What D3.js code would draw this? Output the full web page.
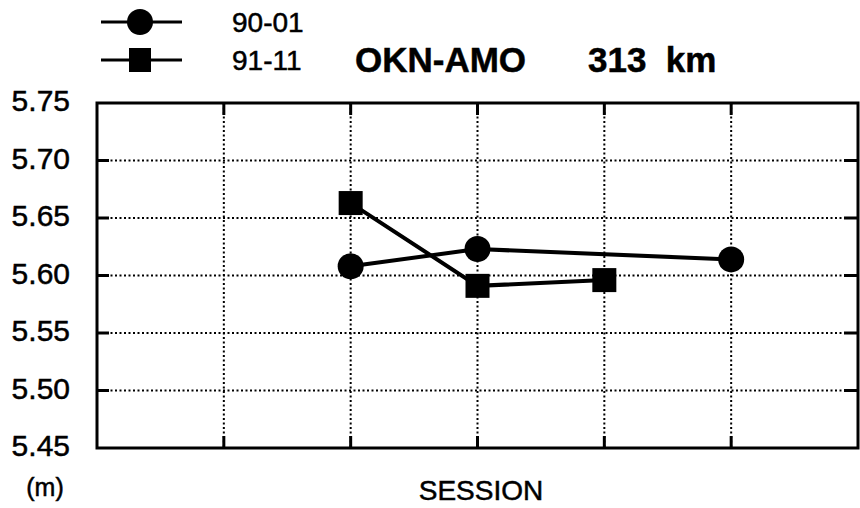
<!DOCTYPE html>
<html>
<head>
<meta charset="utf-8">
<script src="https://cdn.jsdelivr.net/npm/d3@7"></script>
<style>
  body { margin: 0; background: #fff; }
  svg { display: block; }
  text { font-family: "Liberation Sans", Arial, Helvetica, sans-serif; fill: #000; stroke: #000; stroke-width: 0.5px; }
</style>
</head>
<body>
<svg width="860" height="508"></svg>
<script>
// data
var sessions9001 = [2, 3, 5];
var values9001 = [5.608, 5.623, 5.614];
var sessions9111 = [2, 3, 4];
var values9111 = [5.663, 5.591, 5.596];
var yTicks = [5.45, 5.50, 5.55, 5.60, 5.65, 5.70, 5.75];
var xGrid = [1, 2, 3, 4, 5];
var seriesNames = ["90-01", "91-11"];

drawChart();

function drawChart() {

  var svg = d3.select("svg");

  // plot box
  var boxLeft = 97, boxRight = 858, boxTop = 103, boxBottom = 448;

  var x = d3.scaleLinear().domain([0, 6]).range([boxLeft, boxRight]);
  var y = d3.scaleLinear().domain([5.45, 5.75]).range([boxBottom, boxTop]);

  // dotted grid
  svg.append("g")
    .selectAll("line")
    .data(xGrid)
    .enter().append("line")
      .attr("x1", function(d) { return x(d); })
      .attr("x2", function(d) { return x(d); })
      .attr("y1", boxTop)
      .attr("y2", boxBottom)
      .attr("stroke", "#000")
      .attr("stroke-width", 2)
      .attr("stroke-dasharray", "2,2.5");

  svg.append("g")
    .selectAll("line")
    .data(yTicks.slice(1, -1))
    .enter().append("line")
      .attr("x1", boxLeft)
      .attr("x2", boxRight)
      .attr("y1", function(d) { return y(d); })
      .attr("y2", function(d) { return y(d); })
      .attr("stroke", "#000")
      .attr("stroke-width", 2)
      .attr("stroke-dasharray", "2,2.5");

  // inner tick marks on all four sides
  var ticks = svg.append("g").attr("stroke", "#000").attr("stroke-width", 3);
  xGrid.forEach(function(d) {
    ticks.append("line").attr("x1", x(d)).attr("x2", x(d)).attr("y1", boxTop).attr("y2", boxTop + 12);
    ticks.append("line").attr("x1", x(d)).attr("x2", x(d)).attr("y1", boxBottom).attr("y2", boxBottom - 12);
  });
  yTicks.slice(1, -1).forEach(function(d) {
    ticks.append("line").attr("x1", boxLeft).attr("x2", boxLeft + 12).attr("y1", y(d)).attr("y2", y(d));
    ticks.append("line").attr("x1", boxRight).attr("x2", boxRight - 14).attr("y1", y(d)).attr("y2", y(d));
  });

  // frame
  svg.append("rect")
    .attr("x", boxLeft)
    .attr("y", boxTop)
    .attr("width", boxRight - boxLeft)
    .attr("height", boxBottom - boxTop)
    .attr("fill", "none")
    .attr("stroke", "#000")
    .attr("stroke-width", 3);

  // y axis labels
  var yAxis = d3.axisLeft(y)
    .tickValues(yTicks)
    .tickSize(0)
    .tickPadding(27)
    .tickFormat(d3.format(".2f"));

  var ya = svg.append("g")
    .attr("transform", "translate(" + boxLeft + ",0)")
    .call(yAxis);
  ya.select(".domain").remove();
  ya.selectAll("text")
    .attr("dy", "0.26em")
    .style("font-size", "30px")
    .style("font-family", "'Liberation Sans', Arial, sans-serif")
    .attr("fill", "#000");

  svg.append("text")
    .attr("x", 45)
    .attr("y", 496)
    .attr("text-anchor", "middle")
    .style("font-size", "25px")
    .text("(m)");

  svg.append("text")
    .attr("x", 481)
    .attr("y", 500)
    .attr("text-anchor", "middle")
    .style("font-size", "28px")
    .text("SESSION");

  // title
  svg.append("text")
    .attr("x", 355)
    .attr("y", 72)
    .style("font-size", "35px")
    .style("font-weight", "bold")
    .text("OKN-AMO");

  svg.append("text")
    .attr("x", 588)
    .attr("y", 72)
    .style("font-size", "35px")
    .style("font-weight", "bold")
    .style("white-space", "pre")
    .text("313  km");

  // series lines
  var line = d3.line()
    .x(function(d) { return x(d[0]); })
    .y(function(d) { return y(d[1]); });

  var pts9001 = d3.zip(sessions9001, values9001);
  var pts9111 = d3.zip(sessions9111, values9111);

  svg.append("path")
    .datum(pts9001)
    .attr("d", line)
    .attr("fill", "none")
    .attr("stroke", "#000")
    .attr("stroke-width", 4);

  svg.append("path")
    .datum(pts9111)
    .attr("d", line)
    .attr("fill", "none")
    .attr("stroke", "#000")
    .attr("stroke-width", 4);

  svg.selectAll("circle.pt")
    .data(pts9001)
    .enter().append("circle")
      .attr("class", "pt")
      .attr("cx", function(d) { return x(d[0]); })
      .attr("cy", function(d) { return y(d[1]); })
      .attr("r", 13)
      .attr("fill", "#000");

  svg.selectAll("rect.pt")
    .data(pts9111)
    .enter().append("rect")
      .attr("class", "pt")
      .attr("x", function(d) { return x(d[0]) - 12; })
      .attr("y", function(d) { return y(d[1]) - 12; })
      .attr("width", 24)
      .attr("height", 24)
      .attr("fill", "#000");

  // legend
  var legend = svg.append("g");
  var legY = [22, 60];
  legY.forEach(function(ly, i) {
    legend.append("line")
      .attr("x1", 101).attr("x2", 182)
      .attr("y1", ly).attr("y2", ly)
      .attr("stroke", "#000")
      .attr("stroke-width", 3);
    if (i == 0) {
      legend.append("circle").attr("cx", 140).attr("cy", ly).attr("r", 13).attr("fill", "#000");
    } else {
      legend.append("rect").attr("x", 129).attr("y", ly - 12).attr("width", 22).attr("height", 24).attr("fill", "#000");
    }
    legend.append("text")
      .attr("x", 232)
      .attr("y", ly + 10)
      .style("font-size", "28px")
      .text(seriesNames[i]);
  });
}
</script>
</body>
</html>
